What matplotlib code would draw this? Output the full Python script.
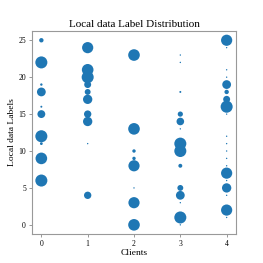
import matplotlib
matplotlib.use("Agg")
import matplotlib.pyplot as plt

# labels held by each client and how many samples of each
client_labels = [
    [25, 22, 19, 18, 16, 15, 12, 11, 9, 6],
    [24, 21, 20, 19, 18, 17, 15, 14, 11, 4],
    [23, 13, 10, 9, 8, 5, 3, 0],
    [23, 22, 18, 15, 14, 13, 11, 10, 8, 5, 4, 3, 1, 0],
    [25, 24, 21, 20, 19, 18, 17, 16, 15, 12, 11, 10, 9, 8, 7, 6, 5, 4, 2, 1],
]
client_counts = [
    [10, 75, 3, 40, 2, 32, 75, 4, 70, 75],
    [65, 70, 75, 25, 18, 45, 28, 45, 1, 28],
    [70, 70, 6, 6, 65, 1, 65, 70],
    [1, 1, 2, 14, 30, 1, 75, 75, 8, 18, 40, 1, 75, 1],
    [65, 1, 1, 1, 40, 10, 25, 75, 1, 1, 1, 1, 1, 1, 65, 1, 45, 1, 65, 1],
]
clients = [0, 1, 2, 3, 4]

plt.rcParams['font.family'] = ['Liberation Serif', 'DejaVu Serif']

fig = plt.figure(figsize=(2.63, 2.63), dpi=100)
ax = fig.add_axes([0.122, 0.110, 0.775, 0.772])

for c, labels, counts in zip(clients, client_labels, client_counts):
    ax.scatter([c] * len(labels), labels, s=counts, color='#1f77b4', linewidths=0)

ax.set_title("Local data Label Distribution", fontsize=8, pad=3)
ax.set_xlabel("Clients", fontsize=6.8, labelpad=0.5)
ax.set_ylabel("Local data Labels", fontsize=6.8, labelpad=1.5)
ax.set_xticks(clients)
ax.set_yticks([0, 5, 10, 15, 20, 25])
ax.tick_params(labelsize=5.5, length=2.5, width=0.6, color='#888888', pad=2)
for sp in ax.spines.values():
    sp.set_color('#999999')
    sp.set_linewidth(0.8)

fig.savefig("out.png", dpi=100)
